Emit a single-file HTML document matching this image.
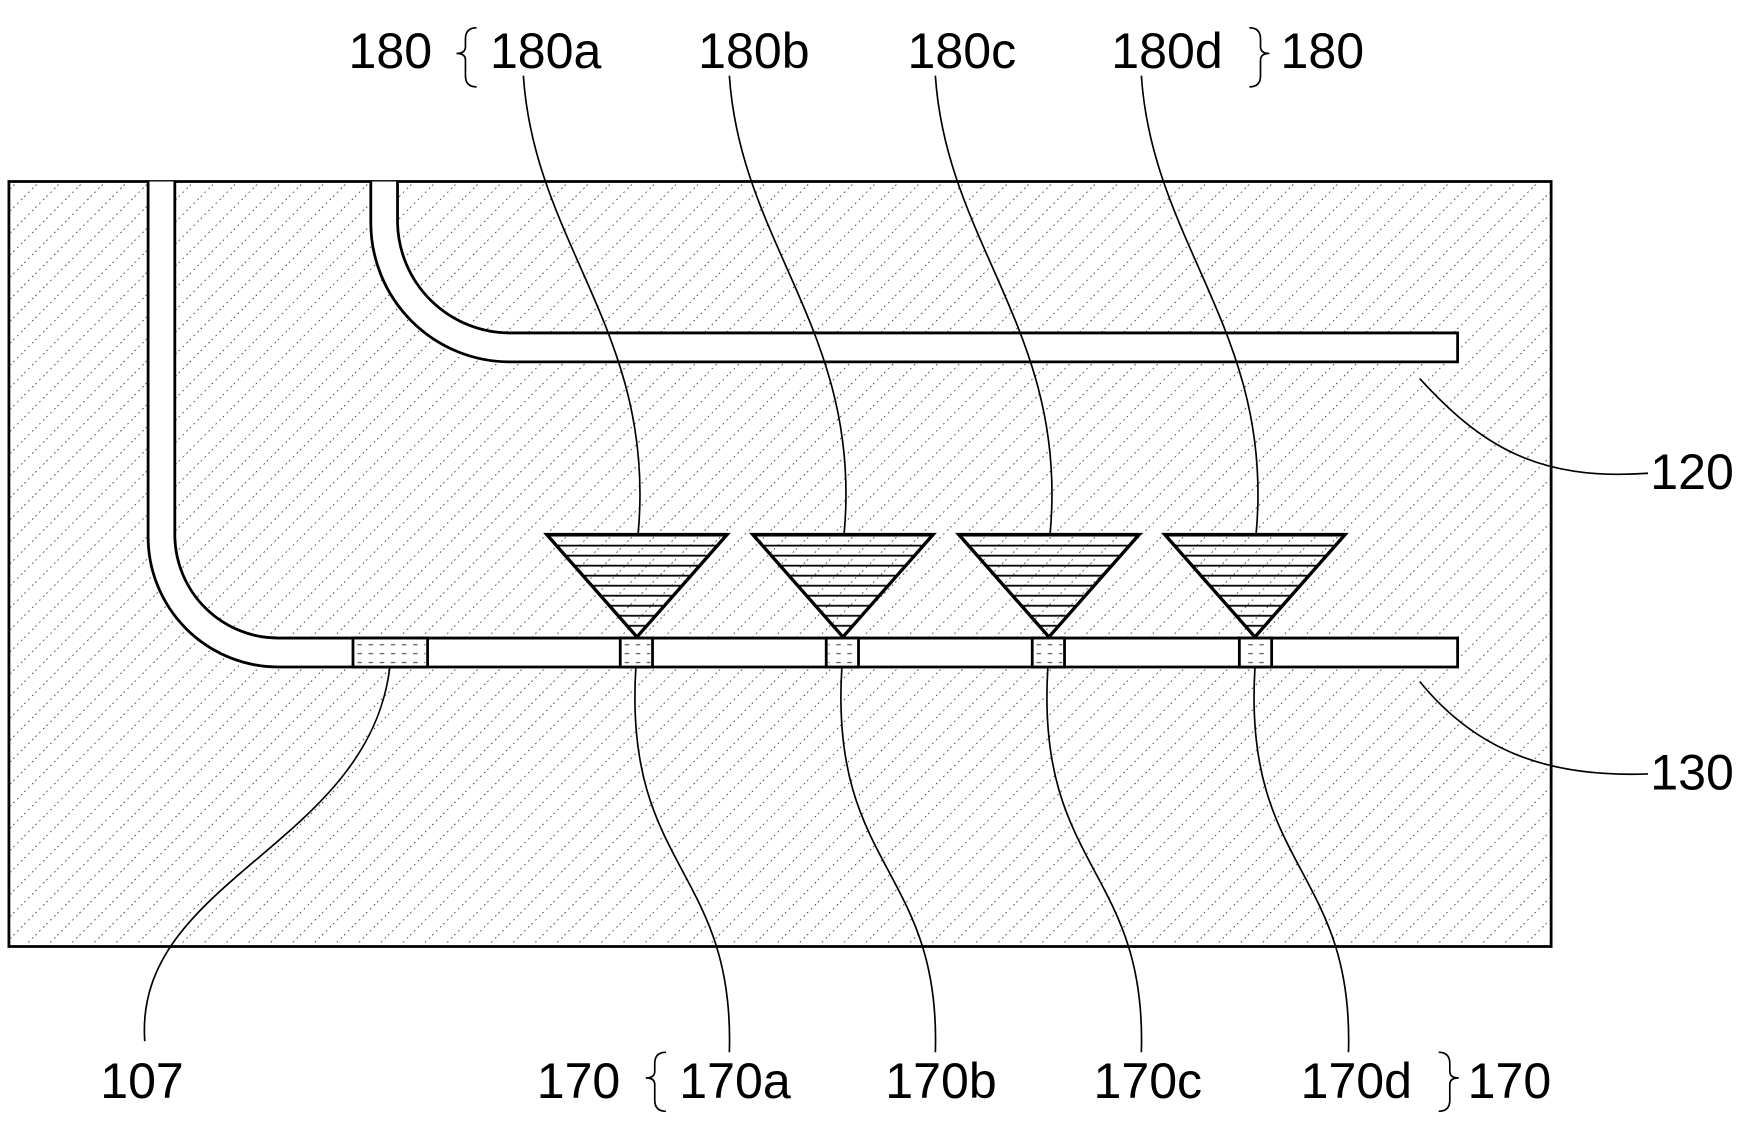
<!DOCTYPE html>
<html><head><style>html,body{margin:0;padding:0;background:#fff}svg{display:block}</style></head>
<body>
<svg width="1746" height="1128" viewBox="0 0 1568 1013" xmlns="http://www.w3.org/2000/svg">
<defs>
<pattern id="h" width="14" height="14" patternUnits="userSpaceOnUse" patternTransform="rotate(45)">
<line x1="0" y1="0" x2="0" y2="14" stroke="#222" stroke-width="1.4" stroke-dasharray="1.5 3.5"/>
</pattern>
<pattern id="t" width="10" height="9" patternUnits="userSpaceOnUse">
<line x1="0" y1="4" x2="10" y2="4" stroke="#000" stroke-width="1.6"/>
</pattern>
<pattern id="d" width="10" height="8" patternUnits="userSpaceOnUse">
<line x1="1" y1="3" x2="5" y2="3" stroke="#444" stroke-width="1"/>
</pattern>
</defs>
<rect x="8" y="163" width="1385" height="687" fill="#fff" stroke="#000" stroke-width="2.5"/>
<rect x="8" y="163" width="1385" height="687" fill="url(#h)"/>
<g fill="#fff" stroke="#000" stroke-width="2.5">
<path d="M333,163 V200 A125,125 0 0 0 458,325 H1309 V299 H458 A101,101 0 0 1 357,200 V163"/>
<path d="M133,163 V482 A117,117 0 0 0 250,599 H1309 V573 H250 A93,93 0 0 1 157,482 V163"/>
</g>
<g stroke="#000" stroke-width="3">
<polygon points="491,480 653,480 572,572" fill="url(#t)"/>
<polygon points="676,480 838,480 757,572" fill="url(#t)"/>
<polygon points="861,480 1023,480 942,572" fill="url(#t)"/>
<polygon points="1046,480 1208,480 1127,572" fill="url(#t)"/>
</g>
<g stroke="#000" stroke-width="2.5" fill="#fff">
<rect x="317" y="573" width="67" height="26"/>
<rect x="557" y="573" width="29" height="26"/>
<rect x="742" y="573" width="29" height="26"/>
<rect x="927" y="573" width="29" height="26"/>
<rect x="1113" y="573" width="29" height="26"/>
</g>
<g fill="url(#d)">
<rect x="319" y="575" width="63" height="22"/>
<rect x="559" y="575" width="25" height="22"/>
<rect x="744" y="575" width="25" height="22"/>
<rect x="929" y="575" width="25" height="22"/>
<rect x="1115" y="575" width="25" height="22"/>
</g>
<g fill="none" stroke="#000" stroke-width="1.5">
<path d="M470,68 C480,220 590,300 573,480"/>
<path d="M655,68 C665,220 775,300 758,480"/>
<path d="M840,68 C850,220 960,300 943,480"/>
<path d="M1025,68 C1035,220 1145,300 1128,480"/>
<path d="M1275,340 C1330,400 1380,432 1480,425"/>
<path d="M1275,612 C1330,680 1400,698 1480,695"/>
<path d="M350,600 C330,760 120,790 130,935"/>
<path d="M571,600 C560,780 660,780 655,945"/>
<path d="M756,600 C745,780 845,780 840,945"/>
<path d="M941,600 C930,780 1030,780 1025,945"/>
<path d="M1127,600 C1116,780 1216,780 1211,945"/>
<path d="M428,25 Q418,25 418,35 V42 Q418,48 410,48 Q418,48 418,54 V68 Q418,78 428,78"/>
<path d="M1122,25 Q1132,25 1132,35 V42 Q1132,48 1140,48 Q1132,48 1132,54 V68 Q1132,78 1122,78"/>
<path d="M598,945 Q588,945 588,955 V962 Q588,968 580,968 Q588,968 588,974 V988 Q588,998 598,998"/>
<path d="M1292,945 Q1302,945 1302,955 V962 Q1302,968 1310,968 Q1302,968 1302,974 V988 Q1302,998 1292,998"/>
</g>
<g font-family="Liberation Sans, sans-serif" font-size="45" fill="#000">
<text x="313" y="61">180</text>
<text x="440" y="61">180a</text>
<text x="627" y="61">180b</text>
<text x="815" y="61">180c</text>
<text x="998" y="61">180d</text>
<text x="1150" y="61">180</text>
<text x="1482" y="439">120</text>
<text x="1482" y="709">130</text>
<text x="90" y="986">107</text>
<text x="482" y="986">170</text>
<text x="610" y="986">170a</text>
<text x="795" y="986">170b</text>
<text x="982" y="986">170c</text>
<text x="1168" y="986">170d</text>
<text x="1318" y="986">170</text>
</g>
</svg>
</body></html>
